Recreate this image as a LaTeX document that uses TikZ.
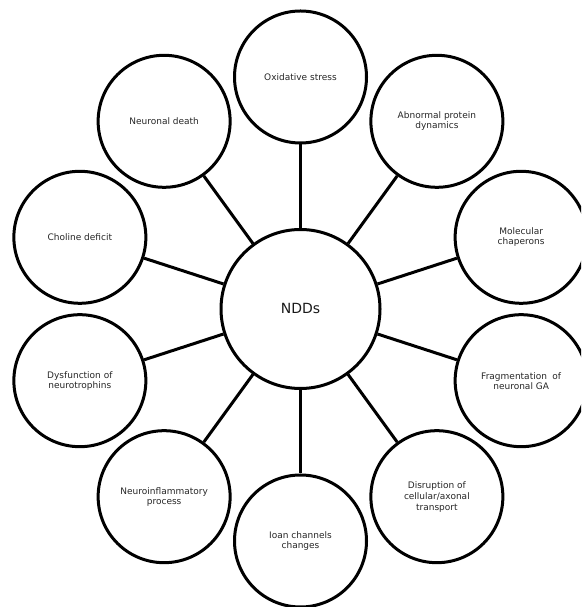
\documentclass[tikz,border=0pt]{standalone}
\usepackage{fontspec}
\setmainfont{DejaVu Sans}
\usetikzlibrary{calc}
\begin{document}
\begin{tikzpicture}[x=1pt,y=1pt,
  topic/.style={circle,draw=black,line width=3pt,minimum size=132pt,inner sep=0pt,
    align=center,text=black!85,font=\fontsize{9}{10}\selectfont},
  hub/.style={circle,draw=black,line width=3pt,minimum size=159pt,inner sep=0pt,
    text=black!90,font=\fontsize{14}{16}\selectfont},
  link/.style={draw=black,line width=3pt}]
\useasboundingbox (0,0) rectangle (581,607);
\clip (0,0) rectangle (581,607);
\coordinate (o) at (300.5,298);
\node[hub] (c) at (o) {NDDs};
\node[topic] (n1)  at ($(o)+(90:232)$)  {Oxidative stress};
\node[topic] (n2)  at ($(o)+(54:232)$)  {Abnormal protein\\dynamics};
\node[topic] (n3)  at ($(o)+(18:232)$)  {Molecular\\chaperons};
\node[topic] (n4)  at ($(o)+(-18:232)$) {Fragmentation\hspace{0.6em}of\\neuronal GA};
\node[topic,font=\fontsize{9}{11}\selectfont] (n5)  at ($(o)+(-54:232)$) {Disruption of\\cellular/axonal\\transport};
\node[topic] (n6)  at ($(o)+(-90:232)$) {Ioan channels\\changes};
\node[topic] (n7)  at ($(o)+(-126:232)$) {Neuroinflammatory\\process};
\node[topic] (n8)  at ($(o)+(-162:232)$) {Dysfunction of\\neurotrophins};
\node[topic] (n9)  at ($(o)+(162:232)$) {Choline deficit};
\node[topic] (n10) at ($(o)+(126:232)$) {Neuronal death};
\foreach \i in {1,...,10} { \draw[link] (c) -- (n\i); }
\end{tikzpicture}
\end{document}
